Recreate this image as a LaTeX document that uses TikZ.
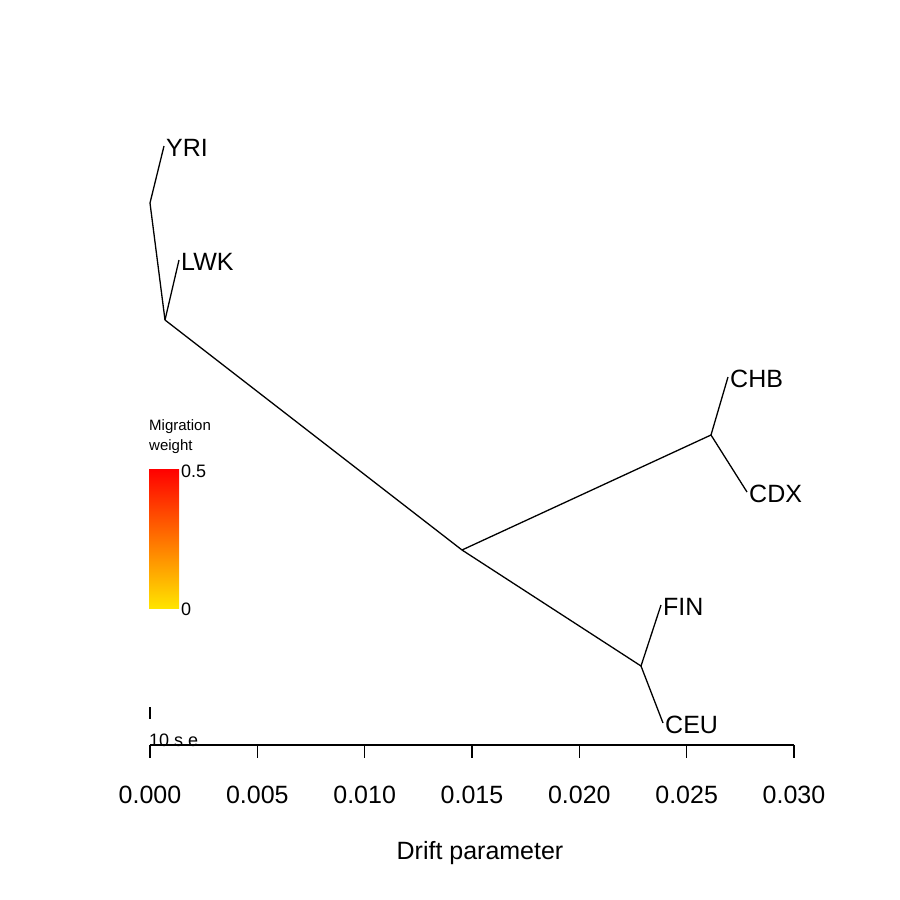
\documentclass[tikz,border=0pt]{standalone}
\usepackage{fontspec}
\setmainfont{Liberation Sans}
\begin{document}
\begin{tikzpicture}[x=1pt,y=-1pt,
  edge/.style={line width=1.3pt, black},
  lab/.style={font=\fontsize{25}{29}\selectfont, inner sep=0pt, anchor=west, xshift=2pt, yshift=-2pt},
  ticklab/.style={font=\fontsize{25}{29}\selectfont, inner sep=0pt},
  small/.style={font=\fontsize{15}{18}\selectfont, inner sep=0pt, anchor=west},
  legnum/.style={font=\fontsize{18}{21}\selectfont, inner sep=0pt, anchor=west}]
\useasboundingbox[fill=white] (0,0) rectangle (900,900);
% tree coordinates
\coordinate (root) at (150,203);
\coordinate (yri) at (164,146);
\coordinate (afr) at (165,320);
\coordinate (lwk) at (179,260);
\coordinate (nafr) at (462,550);
\coordinate (eas) at (711,435);
\coordinate (chb) at (728,377);
\coordinate (cdx) at (747,492);
\coordinate (eur) at (641,666);
\coordinate (fin) at (661,605);
\coordinate (ceu) at (663,723);
% edges
\draw[edge] (root) -- (yri);
\draw[edge] (root) -- (afr);
\draw[edge] (afr) -- (lwk);
\draw[edge] (afr) -- (nafr);
\draw[edge] (nafr) -- (eas);
\draw[edge] (eas) -- (chb);
\draw[edge] (eas) -- (cdx);
\draw[edge] (nafr) -- (eur);
\draw[edge] (eur) -- (fin);
\draw[edge] (eur) -- (ceu);
% leaf labels
\node[lab] (lyri) at (yri) {YRI};
\node[lab] (llwk) at (lwk) {LWK};
\node[lab] (lchb) at (chb) {CHB};
\node[lab] (lcdx) at (cdx) {CDX};
\node[lab] (lfin) at (fin) {FIN};
\node[lab] (lceu) at (ceu) {CEU};
% legend
\node[small] (mig) at (149,427) {Migration};
\node[small] (wgt) at (149,447) {weight};
\shade[top color={rgb,255:red,255;green,0;blue,0}, bottom color={rgb,255:red,255;green,228;blue,0}]
  (149,469) rectangle (179,608);
\node[legnum] (lhi) at (181,471) {0.5};
\node[legnum] (llo) at (181,609) {0};
% scale bar
\draw[line width=2pt] (150,707) -- (150,719);
\node[font=\fontsize{18}{21}\selectfont, inner sep=0pt, anchor=base west] (se) at (149,746) {10 s.e.};
% axis
\draw[line width=1.3pt] (150,745) -- (794,745);
\foreach \i/\t in {0/0.000,1/0.005,2/0.010,3/0.015,4/0.020,5/0.025,6/0.030}{
  \draw[line width=1.3pt] ({150+\i*107.33},745) -- ({150+\i*107.33},758);
  \node[ticklab] (tk\i) at ({150+\i*107.33},795) {\t};
}
\node[ticklab] (xlab) at (480,853) {Drift parameter};
\end{tikzpicture}
\end{document}
